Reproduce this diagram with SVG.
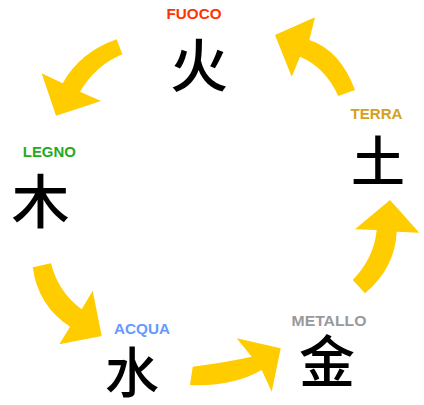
<svg xmlns="http://www.w3.org/2000/svg" width="424" height="405" viewBox="0 0 424 405">
<style>
.lbl{font-family:"Liberation Sans","DejaVu Sans",sans-serif;font-weight:bold;font-size:14px;text-anchor:middle}
.han{font-family:"Noto Sans CJK SC","Noto Sans CJK JP",sans-serif;font-weight:500;text-anchor:middle;fill:#000}
.arr{fill:#FFCC00}
</style>
<rect width="424" height="405" fill="#fff"/>
<g id="connectors">
<path class="arr" d="M116.7,39.3 Q80,52 62.7,83.3 L41.7,73.3 L56,115.7 L101,101 L80,91.7 Q96,65 122.3,54.3 Z"/>
<path class="arr" d="M338.3,96 Q325,67 300,56.7 L291.7,76.7 L275,35 L315,17.3 L309.3,40 Q340,50 355,90 Z"/>
<path class="arr" d="M32.7,267.3 Q38,306 70,326.7 L59.3,344.3 L101.7,336 L92.7,290.7 L81.7,309.3 Q58,292 51,263.3 Z"/>
<path class="arr" d="M192.7,366.7 Q228,362 251.7,356.7 L236.7,338.3 L280.7,348.3 L271.7,391.7 L261.7,370 Q232,387 190,385 Z"/>
<path class="arr" d="M352.7,280 Q374,258 376.7,230 L355,229.3 L390,200 L419.3,232.7 L396.7,231.7 Q395,268 365,293.3 Z"/>
</g>
<g id="fuoco">
<text class="lbl" x="194" y="19" fill="#FF3300" textLength="55" lengthAdjust="spacingAndGlyphs">FUOCO</text>
<text class="han" x="199" y="87" font-size="58">火</text>
</g>
<g id="legno">
<text class="lbl" x="49.3" y="156.5" fill="#22AA22" textLength="53" lengthAdjust="spacingAndGlyphs">LEGNO</text>
<text class="han" x="40.5" y="223" font-size="58">木</text>
</g>
<g id="terra">
<text class="lbl" x="376.5" y="118.5" fill="#D4A020" textLength="52" lengthAdjust="spacingAndGlyphs">TERRA</text>
<text class="han" x="378" y="182" font-size="54">土</text>
</g>
<g id="acqua">
<text class="lbl" x="142" y="333.5" fill="#6699FF" textLength="56" lengthAdjust="spacingAndGlyphs">ACQUA</text>
<text class="han" x="132" y="393" font-size="54">水</text>
</g>
<g id="metallo">
<text class="lbl" x="329" y="325.5" fill="#999999" textLength="75" lengthAdjust="spacingAndGlyphs">METALLO</text>
<text class="han" x="327" y="382" font-size="56">金</text>
</g>
</svg>
